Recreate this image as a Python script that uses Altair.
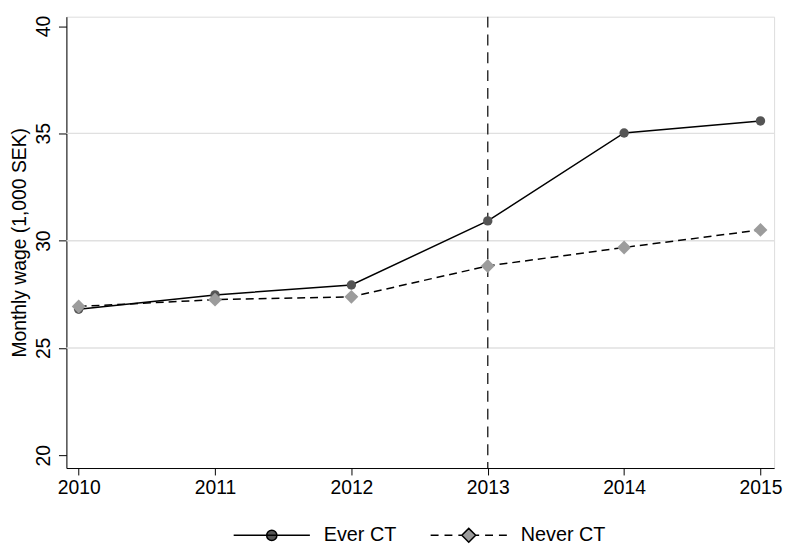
import altair as alt
import pandas as pd

# ---- data ----
years = [2010, 2011, 2012, 2013, 2014, 2015]
ever_ct = [26.80, 27.47, 27.93, 30.92, 35.02, 35.58]
never_ct = [26.93, 27.25, 27.38, 28.82, 29.68, 30.50]
groups = ["Ever CT", "Never CT"]
y_ticks = [20, 25, 30, 35, 40]
grid_values = [25, 30, 35]
event_year = [2013]

df = pd.DataFrame(
    {
        "year": years * 2,
        "wage": ever_ct + never_ct,
        "group": [groups[0]] * len(years) + [groups[1]] * len(years),
    }
)
grid_df = pd.DataFrame({"y": grid_values})
event_df = pd.DataFrame({"x": event_year})

FONT = "Liberation Sans"
x_dom = [2009.91, 2015.1]
y_dom = [19.4, 40.44]

xs = alt.Scale(domain=x_dom, nice=False, zero=False)
ys = alt.Scale(domain=y_dom, nice=False, zero=False)

x_axis = alt.Axis(
    values=years, format="d", tickSize=7, labelPadding=4, labelFontSize=19.5,
    labelColor="black", domainColor="black", tickColor="black", grid=False,
    title=None, labelFont=FONT, labelFlush=False,
)
y_axis = alt.Axis(
    values=y_ticks, labelAngle=270, labelAlign="center", labelBaseline="bottom",
    tickSize=8, labelPadding=5, labelFontSize=19.5, labelColor="black",
    domainColor="black", tickColor="black", grid=False, labelFont=FONT,
    title="Monthly wage (1,000 SEK)", titleFontSize=19.5, titleFontWeight="normal",
    titleFont=FONT, titleColor="black", titlePadding=4,
)

base = alt.Chart(df)

grid = alt.Chart(grid_df).mark_rule(color="#e0e0e0", strokeWidth=1.5).encode(
    y=alt.Y("y:Q", scale=ys, axis=y_axis)
)

event = alt.Chart(event_df).mark_rule(
    color="#333333", strokeWidth=1.5, strokeDash=[11, 7]
).encode(x=alt.X("x:Q", scale=xs, axis=x_axis))

line_ever = base.transform_filter(alt.datum.group == groups[0]).mark_line(
    color="black", strokeWidth=1.5
).encode(x=alt.X("year:Q", scale=xs), y=alt.Y("wage:Q", scale=ys))

line_never = base.transform_filter(alt.datum.group == groups[1]).mark_line(
    color="black", strokeWidth=1.5, strokeDash=[8, 5]
).encode(x=alt.X("year:Q", scale=xs), y=alt.Y("wage:Q", scale=ys))

pts_ever = base.transform_filter(alt.datum.group == groups[0]).mark_point(
    filled=True, shape="circle", size=90, color="#555555", opacity=1
).encode(x=alt.X("year:Q", scale=xs), y=alt.Y("wage:Q", scale=ys))

pts_never = base.transform_filter(alt.datum.group == groups[1]).mark_point(
    filled=True, shape="diamond", size=196, color="#9c9c9c", opacity=1
).encode(x=alt.X("year:Q", scale=xs), y=alt.Y("wage:Q", scale=ys))

# ---- legend symbols (line + marker) as custom SVG paths ----
U = 38.5  # px per unit of symbol path
def seg(a, b):
    return f"M{a / U:.3f},0L{b / U:.3f},0"

ever_path = seg(-38.5, 38.5) + (
    "M0.135,0A0.135,0.135 0 1 1 -0.135,0A0.135,0.135 0 1 1 0.135,0Z"
)
never_path = "".join(
    seg(a, b)
    for a, b in [(-38.5, -30.5), (-24.5, -16.5), (-10.5, -7.5),
                 (7.5, 10.5), (16.5, 24.5), (30.5, 38.5)]
) + "M0,-0.182L0.182,0L0,0.182L-0.182,0Z"

legend = alt.Legend(
    title=None, orient="none", legendX=168, legendY=514, direction="horizontal",
    columns=2, symbolSize=77 * 77, symbolStrokeWidth=1.5, clipHeight=20,
    labelFontSize=20, labelFont=FONT, labelColor="black", labelOffset=13,
    columnPadding=33, padding=0, symbolOpacity=1,
)

legend_layer = base.transform_filter("false").mark_point(filled=True).encode(
    x=alt.X("year:Q", scale=xs),
    y=alt.Y("wage:Q", scale=ys),
    shape=alt.Shape("group:N", scale=alt.Scale(domain=groups, range=[ever_path, never_path]), legend=legend),
    fill=alt.Fill("group:N", scale=alt.Scale(domain=groups, range=["#555555", "#9c9c9c"]), legend=legend),
    stroke=alt.Stroke("group:N", scale=alt.Scale(domain=groups, range=["black", "black"]), legend=legend),
)

chart = (
    alt.layer(grid, event, line_ever, line_never, pts_ever, pts_never, legend_layer)
    .properties(
        width=715, height=456,
        padding={"left": 59, "top": 6, "right": 10, "bottom": 75},
        autosize=alt.AutoSizeParams(type="none"),
    )
    .configure_view(stroke=None)
    .configure(background="white")
)

chart.save("out.html", embed_options={"renderer": "svg", "actions": False})
